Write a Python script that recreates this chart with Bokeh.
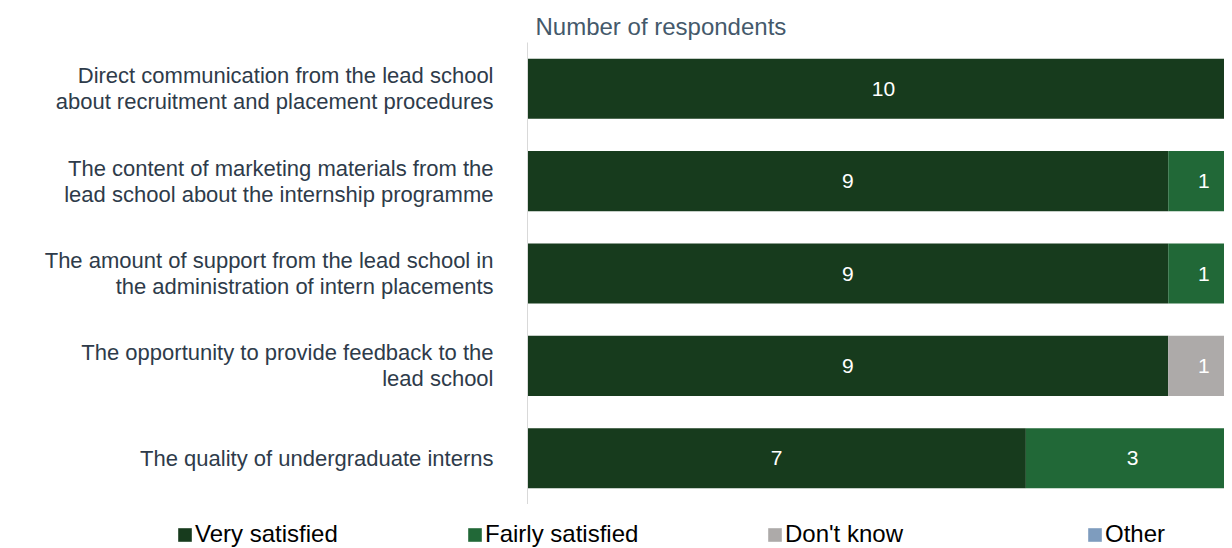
from bokeh.plotting import figure
from bokeh.layouts import column
from bokeh.models import ColumnDataSource, Legend, LegendItem
from bokeh.core.properties import value
from bokeh.embed import file_html
from bokeh.resources import INLINE

categories = [
    "Direct communication from the lead school\nabout recruitment and placement procedures",
    "The content of marketing materials from the\nlead school about the internship programme",
    "The amount of support from the lead school in\nthe administration of intern placements",
    "The opportunity to provide feedback to the\nlead school",
    "The quality of undergraduate interns",
]
series_names = ["Very satisfied", "Fairly satisfied", "Don't know", "Other"]
very_satisfied = [10, 9, 9, 9, 7]
fairly_satisfied = [0, 1, 1, 0, 3]
dont_know = [0, 0, 0, 1, 0]
other = [0, 0, 0, 0, 0]
colors = ["#173B1D", "#216837", "#ADAAA9", "#7E9CBE"]

FONT = "Liberation Sans"

keys = ["very", "fairly", "dk", "other"]
data = dict(cat=categories, very=very_satisfied, fairly=fairly_satisfied,
            dk=dont_know, other=other)
source = ColumnDataSource(data)

p = figure(y_range=list(reversed(categories)), x_range=(0, 9.79),
           frame_width=697, frame_height=462, output_backend="svg",
           toolbar_location=None,
           min_border_left=527, min_border_right=0, min_border_top=42,
           min_border_bottom=0)

renderers = p.hbar_stack(keys, y="cat", height=0.65, color=colors, source=source,
                         line_color=None)

# value labels
lx, ly, lt = [], [], []
for i, cat in enumerate(categories):
    left = 0
    for series in (very_satisfied, fairly_satisfied, dont_know, other):
        v = series[i]
        if v > 0:
            lx.append(left + v / 2)
            ly.append(cat)
            lt.append(str(v))
        left += v
p.text(x=lx, y=ly, text=lt, text_color="white", text_align="center",
       text_baseline="middle", text_font=value(FONT), text_font_size="21px")

p.title.text = "Number of respondents"
p.title.text_font = FONT
p.title.text_font_size = "24px"
p.title.text_font_style = "normal"
p.title.text_color = "#44596B"
p.title.offset = 8
p.title.standoff = 6

p.xaxis.visible = False
p.xgrid.visible = False
p.ygrid.visible = False
p.outline_line_color = None
ax = p.yaxis[0]
ax.axis_line_color = "#D9D9D9"
ax.axis_line_width = 1
ax.major_tick_line_color = None
ax.minor_tick_line_color = None
ax.major_label_text_font = FONT
ax.major_label_text_font_size = "22px"
ax.major_label_text_line_height = 1.04
ax.major_label_text_color = "#2E3B4A"
ax.major_label_standoff = 28

# legend strip below the chart
lg = figure(x_range=(0, 1), y_range=(0, 1), frame_width=1224, frame_height=44,
            output_backend="svg", toolbar_location=None,
            x_axis_location=None, y_axis_location=None,
            min_border_left=0, min_border_right=0, min_border_top=0,
            min_border_bottom=0)
lg.xgrid.visible = False
lg.ygrid.visible = False
lg.outline_line_color = None
legend_x = [176, 466, 766, 1086]
for name, c, lx0 in zip(series_names, colors, legend_x):
    # zero-size placeholder glyph: only its legend swatch is shown
    r = lg.quad(left=[0], right=[0], top=[0], bottom=[0], color=c, line_color=None)
    leg = Legend(items=[LegendItem(label=name, renderers=[r])],
                 orientation="horizontal", location=(lx0, 0),
                 label_text_font=FONT, label_text_font_size="24px",
                 label_text_color="#000000", glyph_width=17, glyph_height=17,
                 label_standoff=2, spacing=0, padding=0, margin=0,
                 border_line_color=None, background_fill_alpha=0)
    lg.add_layout(leg)

layout = column(p, lg, spacing=0)

open("out.html", "w").write(file_html(layout, INLINE))
